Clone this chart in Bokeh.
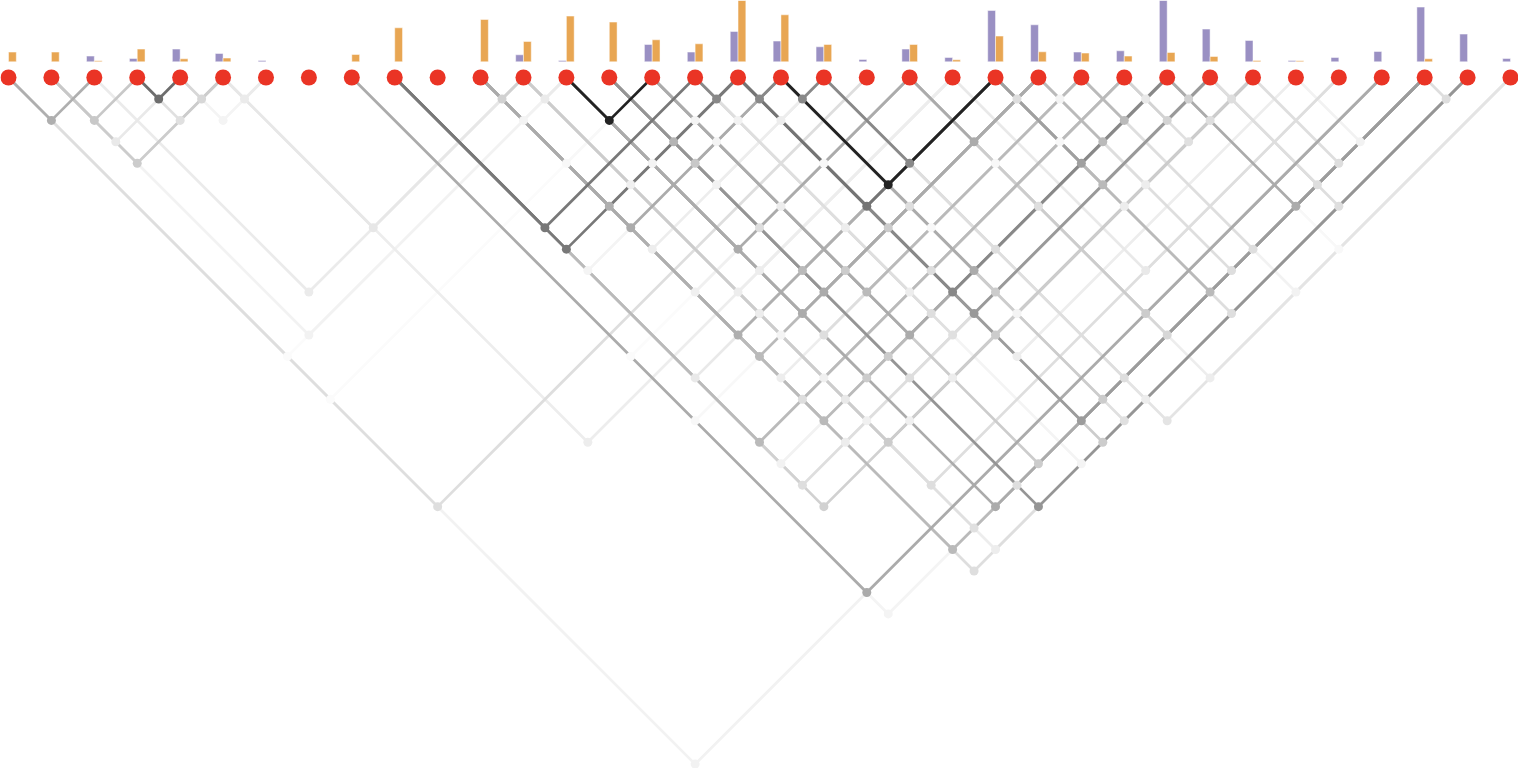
import numpy as np
from bokeh.plotting import figure
from bokeh.models import Range1d, ColumnDataSource
from bokeh.embed import file_html
from bokeh.resources import INLINE

# ---------------- data ----------------
n_sites = 36
site_index = list(range(n_sites))

# bar heights above each site (two measures per site)
purple_vals = [0, 0, 5.7, 3.3, 12.7, 8.3, 1.3, 0, 0,
               0, 0, 0, 7.0, 1.3, 0, 17.3, 9.7, 30.3,
               20.7, 15.0, 2.3, 12.7, 4.3, 51.3, 37.0, 9.7, 11.0,
               61.3, 32.7, 21.3, 1.3, 4.3, 10.3, 54.7, 27.7, 3.3]
orange_vals = [9.7, 9.7, 1.0, 12.7, 3.0, 3.7, 0, 0, 7.3,
               34.0, 0, 42.3, 20.3, 45.7, 39.7, 22.0, 18.0, 61.3,
               47.0, 17.3, 0, 17.3, 2.0, 25.7, 10.0, 8.7, 5.7,
               9.3, 5.3, 1.3, 1.0, 0, 0, 3.0, 0, 0]

# pairwise links: site a, site b, strength (0..1)
link_a = [0, 1, 3, 1, 1, 3, 4, 4, 5, 5, 2, 1, 0, 0, 0, 5, 0, 8, 8, 8, 8,
          9, 9, 9, 9, 9, 9, 9, 9,
          11, 11, 11, 11, 11, 11, 11, 11, 11, 11, 11, 11, 11, 11, 11,
          12, 12, 12, 12, 12, 12, 12, 12, 12, 12, 12, 12,
          13, 13, 13, 13, 13, 13, 13, 13, 13,
          14, 14, 14, 14, 14, 14, 14, 14, 14, 14,
          15, 15, 15, 15, 15, 15, 15, 15,
          16, 16, 16, 16, 16, 16, 16,
          17, 17, 17, 17, 17, 17, 17, 17, 17, 17, 17, 17,
          18, 18, 18, 18, 18, 18, 18, 18, 18,
          19, 19, 19, 19, 19,
          21, 21, 21, 21, 21, 21,
          22,
          23, 23, 23, 23, 23, 23, 23,
          24, 24, 24, 24,
          25, 25, 25,
          26, 26, 26,
          27, 27, 27, 27,
          28, 28, 28,
          29, 30, 33]
link_b = [2, 3, 4, 4, 5, 5, 5, 6, 6, 12, 12, 13, 13, 15, 20, 22, 32, 32, 33, 21, 24,
          16, 17, 18, 23, 26, 27, 28, 29,
          12, 13, 15, 17, 18, 19, 21, 23, 24, 25, 26, 27, 28, 33, 34,
          13, 17, 22, 23, 24, 26, 27, 28, 29, 31, 33, 34,
          15, 17, 21, 22, 24, 25, 27, 29, 33,
          17, 18, 19, 21, 23, 24, 27, 28, 33, 34,
          17, 18, 21, 24, 25, 27, 29, 33,
          17, 18, 23, 26, 27, 28, 34,
          18, 19, 21, 23, 24, 26, 27, 28, 29, 30, 33, 34,
          19, 23, 24, 25, 27, 28, 29, 33, 34,
          23, 27, 33, 34, 35,
          24, 25, 27, 32, 33, 35,
          31,
          24, 26, 27, 28, 29, 33, 34,
          25, 27, 29, 33,
          27, 33, 35,
          27, 28, 29,
          28, 29, 33, 35,
          29, 33, 34,
          33, 33, 34]
link_r = [0.36, 0.25, 0.66, 0.10, 0.23, 0.14, 0.18, 0.05, 0.09, 0.11, 0.09, 0.06, 0.02, 0.02, 0.15, 0.08, 0.06, 0.38, 0.05, 0.02, 0.03,
          0.61, 0.61, 0.05, 0.10, 0.31, 0.06, 0.15, 0.21,
          0.21, 0.05, 0.03, 0.36, 0.38, 0.08, 0.07, 0.36, 0.31, 0.08, 0.15, 0.31, 0.08, 0.31, 0.15,
          0.09, 0.07, 0.08, 0.08, 0.05, 0.07, 0.10, 0.07, 0.23, 0.15, 0.14, 0.08,
          1.00, 0.05, 0.38, 0.08, 0.38, 0.15, 0.23, 0.07, 0.38,
          0.34, 0.25, 0.06, 0.15, 0.31, 0.38, 0.23, 0.15, 0.15, 0.48,
          0.05, 0.05, 0.08, 0.23, 0.31, 0.38, 0.08, 0.23,
          0.54, 0.06, 0.08, 0.08, 0.15, 0.14, 0.05,
          0.54, 0.08, 0.03, 0.63, 0.23, 0.15, 0.54, 0.46, 0.23, 0.08, 0.45, 0.23,
          0.54, 1.00, 0.15, 0.03, 0.38, 0.23, 0.05, 0.23, 0.14,
          0.54, 0.15, 0.15, 0.08, 0.12,
          0.38, 0.03, 0.15, 0.23, 0.18, 0.08,
          0.10,
          0.15, 0.03, 0.43, 0.31, 0.08, 0.31, 0.15,
          0.05, 0.31, 0.08, 0.15,
          0.31, 0.15, 0.06,
          0.10, 0.20, 0.14,
          0.21, 0.15, 0.38, 0.03,
          0.15, 0.15, 0.15,
          0.15, 0.06, 0.15]

# ---------------- geometry (reference pixel frame) ----------------
REF_W, REF_H = 1518, 768
X0, SPACING = 8.0, 42.914
ROW_Y = 77.0
BAR_BASE = 61.3
HALF = SPACING / 2.0
W, H = 1518, 768

PURPLE = "#9a90c3"
ORANGE = "#e8a653"
RED = "#ea3425"


def gray(r):
    g = int(round(255 - 221 * r))
    return "#%02x%02x%02x" % (g, g, g)


p = figure(width=W, height=H,
           x_range=Range1d((0 - X0) / SPACING, (REF_W - X0) / SPACING),
           y_range=Range1d((REF_H - ROW_Y) / HALF, (0 - ROW_Y) / HALF),
           output_backend="svg", toolbar_location=None, min_border=0,
           x_axis_location=None, y_axis_location=None)
p.grid.visible = False
p.outline_line_color = None
p.background_fill_color = "white"
p.border_fill_color = "white"
p.extra_y_ranges = {"bars": Range1d(BAR_BASE - REF_H, BAR_BASE)}

# ---------------- bars ----------------
bw = 7.8 / SPACING
idx = np.array(site_index, dtype=float)
pv = np.array(purple_vals)
ov = np.array(orange_vals)
mp = pv > 0
mo = ov > 0
p.vbar(x=idx[mp] - bw / 2, top=pv[mp], bottom=0, width=bw, y_range_name="bars",
       fill_color=PURPLE, line_color="white", line_width=0.8, line_alpha=0.6)
p.vbar(x=idx[mo] + bw / 2, top=ov[mo], bottom=0, width=bw, y_range_name="bars",
       fill_color=ORANGE, line_color="white", line_width=0.8, line_alpha=0.6)

# ---------------- links ----------------
a = np.array(link_a, dtype=float)
b = np.array(link_b, dtype=float)
r = np.array(link_r, dtype=float)
order = np.argsort(r, kind="stable")
a, b, r = a[order], b[order], r[order]
mid = (a + b) / 2.0
lev = b - a

x0s, y0s, x1s, y1s, cols = [], [], [], [], []
for ai, bi, mi, li, ri in zip(a, b, mid, lev, r):
    c = gray(ri)
    for s in (ai, bi):
        x0s.append(s); y0s.append(0.0); x1s.append(mi); y1s.append(li); cols.append(c)

seg = ColumnDataSource(dict(x0=x0s, y0=y0s, x1=x1s, y1=y1s, c=cols))
p.segment(x0="x0", y0="y0", x1="x1", y1="y1", line_color="c", line_width=2.7, source=seg)

nodes = ColumnDataSource(dict(x=mid, y=lev, c=[gray(v) for v in r]))
p.scatter(x="x", y="y", size=9, fill_color="c", line_color=None, source=nodes)

# ---------------- sites ----------------
p.scatter(x=idx, y=np.zeros(n_sites), size=16, fill_color=RED, line_color=None)

open("out.html", "w").write(file_html(p, INLINE))
